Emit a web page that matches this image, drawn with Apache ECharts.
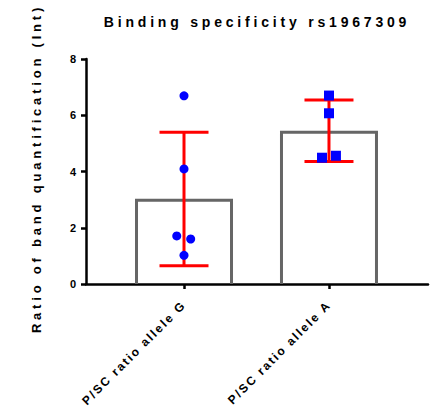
<!DOCTYPE html>
<html>
  <head>
    <meta charset="utf-8" />
    <title>Binding specificity rs1967309</title>
    <script src="https://cdn.jsdelivr.net/npm/echarts@6/dist/echarts.min.js"></script>
    <style>
      * {
        margin: 0;
        padding: 0;
        box-sizing: border-box;
      }
      body {
        background: #fff;
      }
      /* GraphPad style spaced lettering */
      #main text {
        letter-spacing: 3.8px;
      }
      #main text[style*="11px"] {
        letter-spacing: 0;
      }
      #main text[style*="12px"] {
        letter-spacing: 2px;
      }
    </style>
  </head>
  <body>
    <div id="main" style="width: 432px; height: 411px"></div>
    <script type="text/javascript">
      var myChart = echarts.init(document.getElementById("main"), null, {
        renderer: "svg",
      });

      const categories = ["P/SC ratio allele G", "P/SC ratio allele A"];
      const barValues = [2.98, 5.4];
      const errLow = [0.65, 4.36];
      const errHigh = [5.4, 6.54];
      // [category position + jitter, value]
      const pointsG = [
        [0, 6.69],
        [0, 4.09],
        [-0.05, 1.71],
        [0.046, 1.6],
        [0, 1.02],
      ];
      const pointsA = [
        [0, 6.7],
        [0, 6.07],
        [-0.048, 4.49],
        [0.048, 4.56],
      ];

      const font = "Liberation Sans";
      const BAR_W = 95;
      const CAP_W = 49;

      var option = {
        animation: false,
        graphic: [
          {
            type: "text",
            x: 257,
            y: 22,
            style: {
              text: "Binding specificity rs1967309",
              font: "bold 14px " + font,
              fill: "#000",
              textAlign: "center",
              textVerticalAlign: "middle",
            },
          },
        ],
        grid: {
          left: 86,
          right: 4,
          top: 59,
          bottom: 127,
        },
        xAxis: {
          type: "value",
          min: -0.676,
          max: 1.683,
          splitLine: { show: false },
          axisLine: {
            onZero: false,
            lineStyle: { color: "#000", width: 2.5 },
          },
          axisTick: {
            customValues: [0, 1],
            length: 5,
            lineStyle: { color: "#000", width: 2.5 },
          },
          axisLabel: {
            customValues: [0, 1],
            rotate: 45,
            margin: 19,
            fontFamily: font,
            fontWeight: "bold",
            fontSize: 12,
            color: "#000",
            formatter: (v) => categories[Math.round(v)],
          },
        },
        yAxis: {
          type: "value",
          min: 0,
          max: 8,
          interval: 2,
          name: "Ratio of band quantification (Int)",
          nameLocation: "middle",
          nameGap: 43,
          nameTextStyle: {
            fontFamily: font,
            fontWeight: "bold",
            fontSize: 13,
            color: "#000",
            padding: [0, 0, 0, 6],
          },
          splitLine: { show: false },
          axisLine: {
            show: true,
            onZero: false,
            lineStyle: { color: "#000", width: 2.5 },
          },
          axisTick: {
            show: true,
            length: 5,
            lineStyle: { color: "#000", width: 2.5 },
          },
          axisLabel: {
            margin: 10,
            fontFamily: font,
            fontWeight: "bold",
            fontSize: 11,
            color: "#000",
          },
        },
        series: [
          // open bars (no bottom edge)
          {
            type: "custom",
            z: 1,
            renderItem: function (params, api) {
              const top = api.coord([api.value(0), api.value(1)]);
              const base = api.coord([api.value(0), 0]);
              const x0 = top[0] - BAR_W / 2;
              const x1 = top[0] + BAR_W / 2;
              return {
                type: "polyline",
                shape: {
                  points: [
                    [x0, base[1]],
                    [x0, top[1]],
                    [x1, top[1]],
                    [x1, base[1]],
                  ],
                },
                style: { stroke: "#666", lineWidth: 3, fill: null },
              };
            },
            data: barValues.map((v, i) => [i, v]),
          },
          // mean ± SD
          {
            type: "custom",
            z: 2,
            renderItem: function (params, api) {
              const lo = api.coord([api.value(0), api.value(1)]);
              const hi = api.coord([api.value(0), api.value(2)]);
              const st = { stroke: "#ff0000", lineWidth: 3 };
              return {
                type: "group",
                children: [
                  {
                    type: "line",
                    shape: { x1: lo[0], y1: lo[1], x2: hi[0], y2: hi[1] },
                    style: st,
                  },
                  {
                    type: "line",
                    shape: {
                      x1: hi[0] - CAP_W / 2,
                      y1: hi[1],
                      x2: hi[0] + CAP_W / 2,
                      y2: hi[1],
                    },
                    style: st,
                  },
                  {
                    type: "line",
                    shape: {
                      x1: lo[0] - CAP_W / 2,
                      y1: lo[1],
                      x2: lo[0] + CAP_W / 2,
                      y2: lo[1],
                    },
                    style: st,
                  },
                ],
              };
            },
            data: errLow.map((v, i) => [i, v, errHigh[i]]),
          },
          {
            type: "scatter",
            z: 3,
            symbol: "circle",
            symbolSize: 9,
            itemStyle: { color: "#0000ff", opacity: 1 },
            data: pointsG,
          },
          {
            type: "scatter",
            z: 3,
            symbol: "rect",
            symbolSize: 10,
            itemStyle: { color: "#0000ff", opacity: 1 },
            data: pointsA.map((p) => [p[0] + 1, p[1]]),
          },
        ],
      };

      myChart.setOption(option);
    </script>
  </body>
</html>
